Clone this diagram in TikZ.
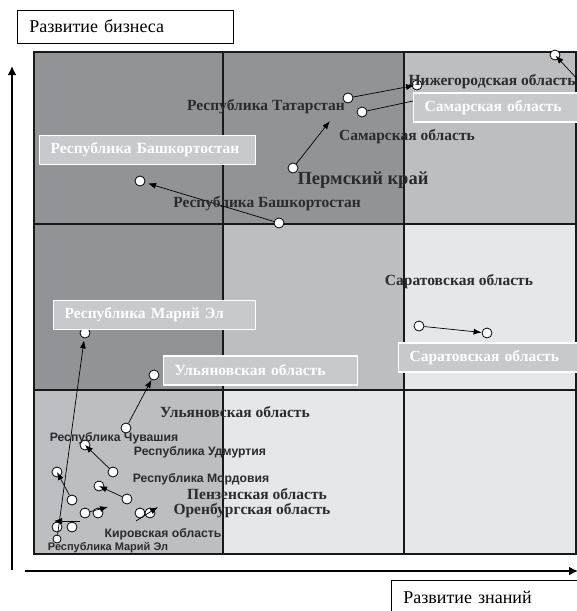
\documentclass[tikz,border=0pt]{standalone}
\usepackage{fontspec}
\setmainfont{Liberation Serif}
\setsansfont{Liberation Sans}
\usetikzlibrary{arrows.meta, positioning}
\definecolor{darkcell}{HTML}{929397}
\definecolor{midcell}{HTML}{BDBEC2}
\definecolor{lightcell}{HTML}{E6E7E9}
\definecolor{tagfill}{HTML}{C8C9CD}
\definecolor{inktext}{HTML}{2B2B2B}
\tikzset{
  gridline/.style={
    draw=black!90,
    line width=1.8pt
  },
  axis/.style={
    line width=2.6pt,
    -{Latex[length=9pt,width=9pt]}
  },
  axislabel/.style={
    rectangle,
    draw=black,
    fill=white,
    line width=0.6pt,
    minimum height=33pt,
    inner xsep=12pt,
    anchor=west,
    align=left,
    font=\fontsize{18}{20}\selectfont
  },
  tag/.style={
    rectangle,
    draw=white,
    fill=tagfill,
    line width=1.2pt,
    minimum height=29pt,
    inner xsep=11pt,
    anchor=west,
    align=left,
    text=white,
    font=\bfseries\fontsize{15.5}{17}\selectfont
  },
  pt/.style={
    circle,
    draw=black,
    fill=white,
    line width=0.8pt,
    minimum size=10pt,
    inner sep=0pt
  },
  lbl/.style={
    inner sep=0pt,
    text=inktext,
    font=\bfseries\fontsize{15.5}{17}\selectfont
  },
  slbl/.style={
    inner sep=0pt,
    text=inktext,
    font=\sffamily\bfseries\fontsize{12.2}{14}\selectfont
  },
  arrow/.style={line width=0.7pt, -{Latex[length=8pt,width=6pt]}}
}

\begin{document}
\begin{tikzpicture}[x=1pt, y=-1pt]
  \clip (0,0) rectangle (577,611);
  \fill[darkcell] (34,52) rectangle (404,224);
  \fill[midcell] (404,52) rectangle (577,224);
  \fill[darkcell] (34,224) rectangle (223,390);
  \fill[midcell] (223,224) rectangle (404,390);
  \fill[lightcell] (404,224) rectangle (577,554);
  \fill[midcell] (34,390) rectangle (223,554);
  \fill[lightcell] (223,390) rectangle (404,554);
  \draw[gridline] (34,52) rectangle (576,554);
  \foreach \gx in {223,404}
    \draw[gridline] (\gx,52) -- (\gx,554);
  \foreach \gy in {224,390}
    \draw[gridline] (34,\gy) -- (576,\gy);

  \coordinate (yaxisS) at (12,570);
  \coordinate (yaxisE) at (12,66);
  \coordinate (xaxisS) at (25,571);
  \coordinate (xaxisE) at (578,571);
  \draw[axis] (yaxisS) -- (yaxisE);
  \draw[axis] (xaxisS) -- (xaxisE);
  \node[axislabel, text width=192pt] (bizL) at (17,26.5) {Развитие бизнеса};
  \node[axislabel, text width=190pt] (knowL) at (391,597) {Развитие знаний};

  \node[pt] (baS) at (279,223) {};
  \node[pt] (baE) at (140,181) {};
  \node[pt] (permS) at (293,168) {};
  \node[pt] (tatS) at (348,98) {};
  \node[pt] (nizhE) at (417,85) {};
  \node[pt] (samS) at (362,112) {};
  \coordinate (samE) at (450,93);
  \node[pt] (topE) at (555,55) {};
  \coordinate (topS) at (580,82);
  \node[pt] (marE) at (85,333) {};
  \node[pt] (ulE) at (154,375) {};
  \node[pt] (ulS) at (126,428) {};
  \node[pt] (sarS) at (419,326) {};
  \node[pt] (sarE) at (487,333) {};
  \node[pt] (chuS) at (113,472) {};
  \node[pt] (chuE) at (85,445) {};
  \node[pt] (udS) at (72,500) {};
  \node[pt] (udE) at (57,472) {};
  \node[pt] (morS) at (127,499) {};
  \node[pt] (morE) at (99,486) {};
  \node[pt] (kirS) at (85,513) {};
  \node[pt] (kirE) at (98,513) {};
  \coordinate (kirT) at (108,507);
  \node[pt] (mar2S) at (72,527) {};
  \node[pt] (mar2E) at (57,527) {};
  \coordinate (mar2T) at (80,521);
  \coordinate (mar2H) at (54,521);
  \node[pt, minimum size=8pt] (marS) at (57,539) {};
  \node[pt] (orS) at (140,513) {};
  \node[pt] (orE) at (150,513) {};
  \coordinate (orT) at (136,521);
  \coordinate (orH) at (158,507);

  \draw[arrow, shorten >=3pt] (baS) -- (baE);
  \draw[arrow, shorten >=24pt] (permS) -- (tatS);
  \draw[arrow, shorten >=3pt] (tatS) -- (nizhE.center);
  \draw[arrow] (samS) -- (samE);
  \draw[arrow, shorten >=1pt] (topS) -- (topE.center);
  \draw[arrow, shorten >=2pt] (marS) -- (marE);
  \draw[arrow] (ulS) -- (ulE);
  \draw[arrow] (sarS) -- (sarE);
  \draw[arrow] (chuS) -- (chuE.center);
  \draw[arrow] (udS) -- (udE.center);
  \draw[arrow] (morS) -- (morE.center);
  \draw[arrow] (kirS) -- (kirT);
  \draw[arrow] (mar2T) -- (mar2H);
  \draw[arrow] (orT) -- (orH);

  \node[lbl] (tatL) at (266,107) {Республика Татарстан};
  \node[lbl] (nizhL) at (492,82) {Нижегородская область};
  \node[lbl] (samL) at (407,137) {Самарская область};
  \node[lbl, font=\bfseries\fontsize{18.5}{20}\selectfont] (permL) at (363,180) {Пермский край};
  \node[lbl] (baL) at (267,204) {Республика Башкортостан};
  \node[lbl] (sarL) at (459,282) {Саратовская область};
  \node[lbl] (ulL) at (235,412) {Ульяновская область};
  \node[lbl] (penL) at (257,494) {Пензенская область};
  \node[lbl] (orL) at (252,511) {Оренбургская область};
  \node[slbl] (chuL) at (114,438) {Республика Чувашия};
  \node[slbl] (udL) at (200,452) {Республика Удмуртия};
  \node[slbl] (morL) at (201,479) {Республика Мордовия};
  \node[slbl] (kirL) at (163,534) {Кировская область};
  \node[slbl, font=\sffamily\bfseries\fontsize{11}{13}\selectfont] (marL) at (108,548) {Республика Марий Эл};

  \node[tag, text width=194pt] (baTag) at (39,150) {Республика Башкортостан};
  \node[tag, text width=180pt] (marTag) at (53,315) {Республика Марий Эл};
  \node[tag, text width=172pt] (ulTag) at (163,370.5) {Ульяновская область};
  \node[tag, text width=170pt] (sarTag) at (398,357.5) {Саратовская область};
  \node[tag, text width=170pt] (samTag) at (413,107.5) {Самарская область};
\end{tikzpicture}
\end{document}
